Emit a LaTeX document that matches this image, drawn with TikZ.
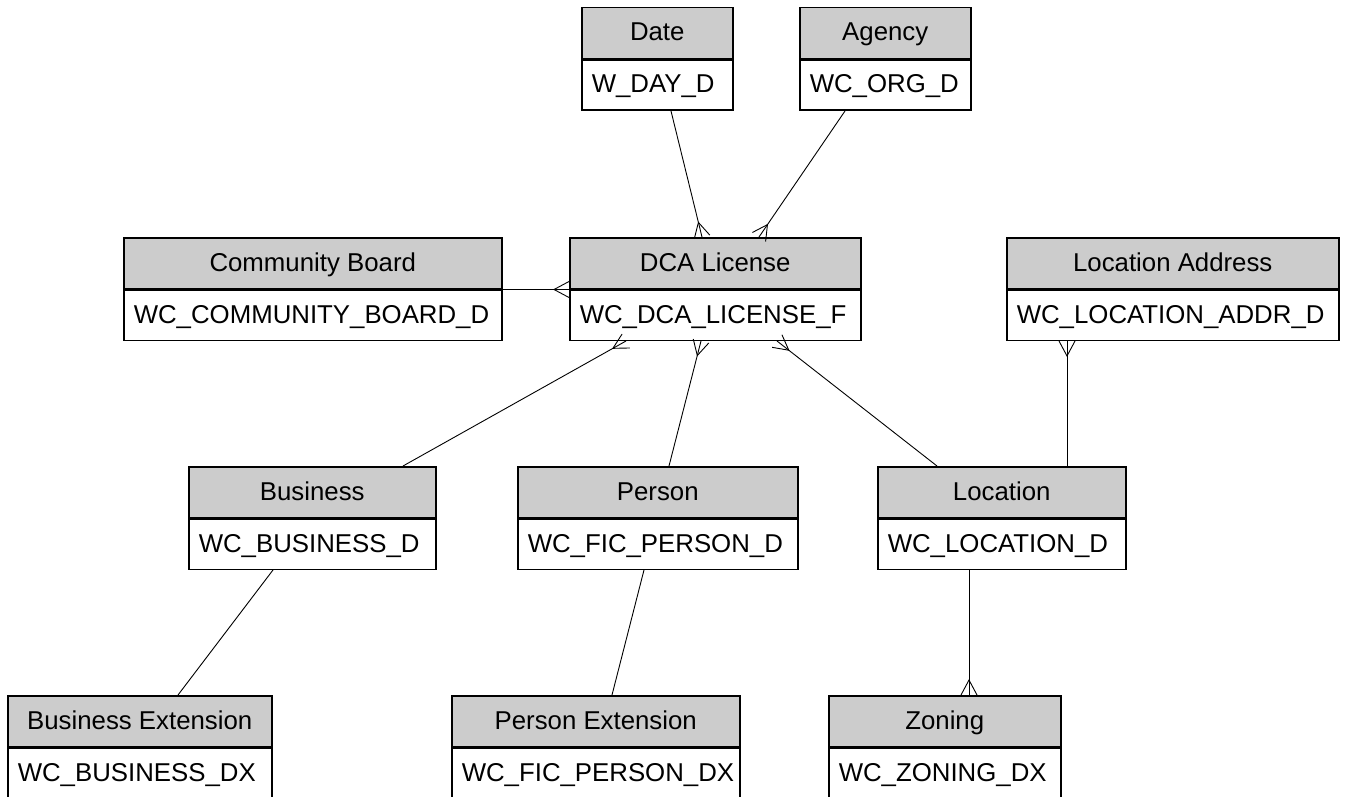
\documentclass[tikz,border=0pt]{standalone}
\usepackage{fontspec}
\setmainfont{Liberation Sans}
\usetikzlibrary{calc}
\definecolor{hdrgray}{RGB}{204,204,204}
\tikzset{
  tblfont/.style={font=\fontsize{25.8}{30}\selectfont, text height=18.5pt, text depth=3pt},
  hdr/.style={draw, line width=1.5pt, fill=hdrgray, minimum height=51pt, inner sep=0pt, tblfont, anchor=north west},
  bdy/.style={draw, line width=1.5pt, fill=white, minimum height=50pt, inner ysep=0pt, inner xsep=10pt, align=left, tblfont, anchor=north},
  conn/.style={draw, line width=0.9pt, line join=miter},
}
\newcommand{\tbl}[6]{%
  \node[hdr, minimum width={#3pt-#2pt}] (#1H) at (#2,#4) {#5};
  \node[bdy, minimum width={#3pt-#2pt}, text width={#3pt-#2pt-20pt}] (#1B) at (#1H.south) {#6};}
\newcommand{\crowconn}[2]{%
  \draw[conn] (#1) -- (#2);
  \draw[conn] ($(#2)!8pt!90:(#1)$) -- ($(#2)!15pt!(#1)$) -- ($(#2)!8pt!-90:(#1)$);}
\begin{document}
\begin{tikzpicture}[x=1pt,y=-1pt]
\useasboundingbox (0,0) rectangle (1345,797);
% tables
\tbl{date}{581}{732}{7}{Date}{W\_DAY\_D}
\tbl{ag}{799}{970}{7}{Agency}{WC\_ORG\_D}
\tbl{cb}{123}{501}{237}{Community Board}{WC\_COMMUNITY\_BOARD\_D}
\tbl{dca}{569}{860}{237}{DCA License}{WC\_DCA\_LICENSE\_F}
\tbl{la}{1006}{1338}{237}{Location Address}{WC\_LOCATION\_ADDR\_D}
\tbl{biz}{188}{435}{466}{Business}{WC\_BUSINESS\_D}
\tbl{per}{517}{797}{466}{Person}{WC\_FIC\_PERSON\_D}
\tbl{loc}{877}{1125}{466}{Location}{WC\_LOCATION\_D}
\tbl{bx}{7}{271}{695}{Business Extension}{WC\_BUSINESS\_DX}
\tbl{px}{451}{739}{695}{Person Extension}{WC\_FIC\_PERSON\_DX}
\tbl{zn}{828}{1060}{695}{Zoning}{WC\_ZONING\_DX}
% connector end points
\coordinate (dateOut) at ($(dateB.south west)+(90,0)$);
\coordinate (dcaDate) at ($(dcaH.north west)+(133,0)$);
\coordinate (agOut) at ($(agB.south west)+(46,0)$);
\coordinate (dcaAg) at ($(dcaH.north west)+(190,0)$);
\coordinate (bizUp) at ($(bizH.north west)+(215,0)$);
\coordinate (dcaBiz) at ($(dcaB.south west)+(57,0)$);
\coordinate (perUp) at ($(perH.north west)+(152,0)$);
\coordinate (dcaPer) at ($(dcaB.south west)+(132,0)$);
\coordinate (locUp) at ($(locH.north west)+(60,0)$);
\coordinate (dcaLoc) at ($(dcaB.south west)+(208,0)$);
\coordinate (locUp2) at ($(locH.north west)+(190,0)$);
\coordinate (laLoc) at ($(laB.south west)+(61,0)$);
\coordinate (bizDown) at ($(bizB.south west)+(85,0)$);
\coordinate (bxUp) at ($(bxH.north west)+(171,0)$);
\coordinate (perDown) at ($(perB.south west)+(127,0)$);
\coordinate (pxUp) at ($(pxH.north west)+(161,0)$);
\coordinate (locDown) at ($(locB.south west)+(92,0)$);
\coordinate (znUp) at ($(znH.north west)+(141,0)$);
% connectors
\crowconn{dateOut}{dcaDate}
\crowconn{agOut}{dcaAg}
\crowconn{cbH.south east}{dcaH.south west}
\crowconn{bizUp}{dcaBiz}
\crowconn{perUp}{dcaPer}
\crowconn{locUp}{dcaLoc}
\crowconn{locUp2}{laLoc}
\draw[conn] (bizDown) -- (bxUp);
\draw[conn] (perDown) -- (pxUp);
\crowconn{locDown}{znUp}
\end{tikzpicture}
\end{document}
